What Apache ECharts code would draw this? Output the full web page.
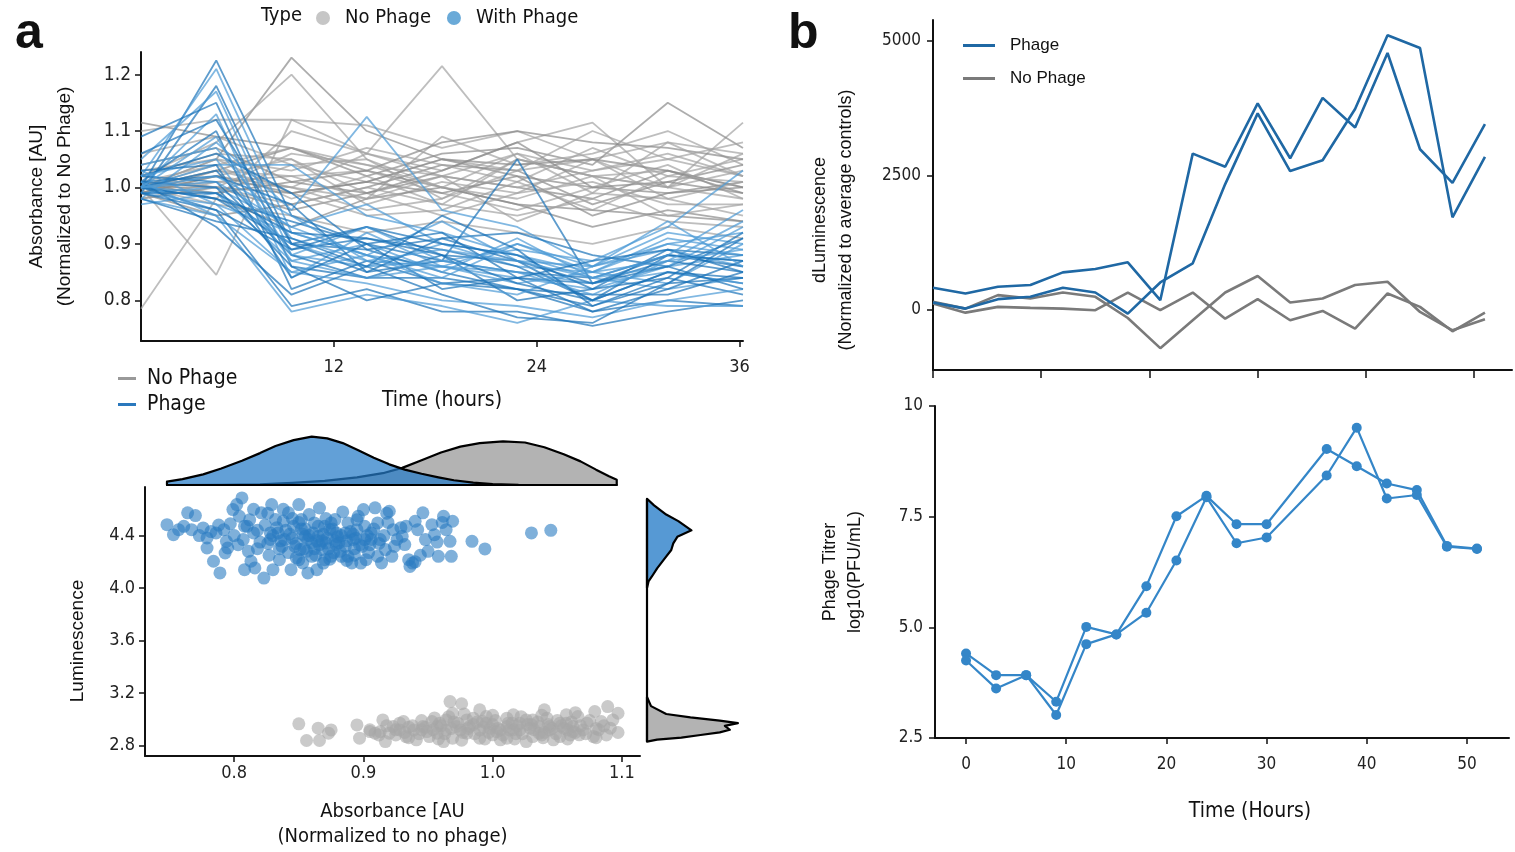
<!DOCTYPE html>
<html><head><meta charset="utf-8">
<script src="https://cdn.jsdelivr.net/npm/echarts@6.0.0/dist/echarts.min.js"></script>
<style>html,body{margin:0;padding:0;background:#fff}#c{width:1515px;height:852px}</style>
</head><body><div id="c"></div>
<script>
const NARROW = "'Liberation Sans Narrow','DejaVu Sans Condensed','Roboto Condensed',sans-serif";
const REG = "'Liberation Sans',Arial,sans-serif";

// ---------- Panel a (top): absorbance time courses ----------
const timeA = [0.6, 5.05, 9.5, 13.95, 18.4, 22.85, 27.3, 31.75, 36.2];
const timeTicksA = [12, 24, 36];
const absTicks = [0.8, 0.9, 1.0, 1.1, 1.2];
const noPhageCurves = [
 [1.00,1.05,1.23,1.10,1.05,1.02,1.00,0.99,1.01],
 [1.02,1.08,1.20,1.05,0.98,1.03,1.05,1.00,0.98],
 [0.785,0.98,1.10,1.06,1.215,1.05,1.02,1.03,1.00],
 [1.115,1.09,1.07,1.03,1.00,0.97,0.96,0.95,0.94],
 [1.00,0.845,1.12,1.11,1.07,1.10,1.05,1.08,1.06],
 [1.10,1.12,1.12,1.06,1.03,1.08,1.115,1.00,1.115],
 [0.99,1.03,1.07,1.02,1.06,1.07,1.04,1.15,1.07],
 [1.00,1.02,1.00,0.98,1.09,1.04,1.06,1.10,1.04],
 [1.01,0.99,1.04,1.05,1.00,1.06,1.03,1.05,1.02],
 [0.98,1.00,0.96,0.99,1.02,1.00,0.98,1.03,1.00],
 [1.00,1.04,0.98,1.02,0.97,1.05,1.02,1.00,1.03],
 [1.02,1.06,1.05,0.97,1.01,0.99,1.05,0.98,1.01],
 [0.99,0.95,0.97,1.00,1.04,1.03,0.97,1.01,0.99],
 [1.00,1.01,1.02,1.03,0.99,0.96,1.00,1.04,0.98],
 [1.03,1.05,0.99,0.95,0.96,1.01,1.07,1.02,1.05],
 [1.01,0.98,0.93,0.98,1.00,0.97,0.93,0.96,0.94],
 [1.00,1.03,1.00,1.06,1.02,0.94,0.99,0.98,0.95],
 [0.99,1.02,1.05,0.99,0.95,0.99,1.01,0.97,0.97],
 [1.04,1.07,1.01,1.03,1.08,1.10,1.08,1.07,1.05],
 [1.00,0.97,0.95,0.92,0.94,0.92,0.90,0.93,0.91],
 [1.06,1.09,1.04,1.01,1.05,1.03,1.10,1.05,1.08],
 [1.00,1.00,0.99,1.01,0.99,1.02,0.95,0.99,1.00],
 [0.98,1.01,1.00,0.96,0.98,1.05,1.02,0.95,0.97],
 [1.01,1.04,1.07,1.04,1.02,1.00,1.03,1.06,1.02],
 [1.00,0.99,1.01,0.99,1.03,1.08,1.00,1.01,1.04],
 [1.02,1.00,0.97,1.00,0.97,0.95,0.98,0.94,0.93],
 [1.00,1.05,1.03,1.07,1.04,1.01,0.96,1.02,1.01],
 [0.99,1.02,0.99,1.01,1.05,1.04,1.05,1.03,0.99],
 [1.01,1.00,1.06,1.04,1.00,0.98,1.02,1.00,1.06],
 [1.00,1.03,1.02,0.98,1.02,1.06,0.99,1.08,1.02]
];
const phageCurves = [
 [1.00,1.225,0.95,0.90,0.87,0.85,0.84,0.88,0.87],
 [1.02,1.21,0.92,0.88,0.86,0.84,0.82,0.86,0.88],
 [0.99,1.18,0.90,0.93,0.88,0.87,0.80,0.85,0.83],
 [1.05,1.17,0.88,0.86,0.90,0.88,0.85,0.83,0.90],
 [1.09,1.15,0.86,0.84,0.84,0.82,0.78,0.80,0.79],
 [1.00,1.13,0.84,0.92,0.86,0.90,0.86,0.89,0.86],
 [1.01,1.10,0.82,0.87,0.83,0.84,0.83,0.87,0.85],
 [0.98,1.08,0.96,1.125,0.96,0.93,0.86,0.90,0.92],
 [1.02,1.06,0.99,0.89,0.91,0.92,0.88,0.86,0.91],
 [1.00,1.04,1.04,0.95,0.92,0.88,0.84,0.82,0.84],
 [1.01,1.02,0.97,0.85,0.87,1.05,0.83,0.88,0.87],
 [0.99,1.00,0.93,0.97,0.90,0.86,0.85,0.91,0.89],
 [1.00,0.98,0.90,0.89,0.85,0.82,0.79,0.84,0.81],
 [1.03,0.97,0.85,0.83,0.80,0.79,0.77,0.80,0.82],
 [1.00,0.96,0.79,0.82,0.78,0.78,0.755,0.78,0.80],
 [0.98,0.95,0.78,0.81,0.79,0.76,0.80,0.79,0.79],
 [1.01,0.93,0.81,0.86,0.81,0.77,0.76,0.83,0.84],
 [1.00,0.99,0.87,0.90,0.85,0.91,0.84,0.86,0.93],
 [1.02,1.01,0.88,0.84,0.88,0.80,0.82,0.89,0.88],
 [0.99,0.97,0.92,0.88,0.94,0.87,0.86,0.92,0.90],
 [1.00,1.03,0.89,0.91,0.89,0.86,0.80,0.88,0.86],
 [1.04,1.07,0.91,0.87,0.86,0.85,0.83,0.85,0.83],
 [1.01,1.00,0.86,0.80,0.83,0.82,0.81,0.81,0.85],
 [0.97,0.99,0.90,0.86,0.87,0.89,0.87,0.93,1.03],
 [1.00,0.98,0.94,0.90,0.82,0.84,0.78,0.82,0.87],
 [1.02,1.05,0.87,0.84,0.86,0.83,0.85,0.87,0.94],
 [0.99,0.96,0.89,0.93,0.90,0.88,0.82,0.84,0.92],
 [1.00,1.01,0.93,0.88,0.84,0.90,0.85,0.90,0.88],
 [1.06,1.12,0.90,0.85,0.91,0.87,0.83,0.86,0.82],
 [1.01,0.95,0.85,0.88,0.83,0.81,0.86,0.94,0.86],
 [0.98,0.94,0.91,0.86,0.95,0.89,0.79,0.83,0.91],
 [1.00,1.09,0.88,0.93,0.87,0.85,0.81,0.87,0.89],
 [1.03,1.04,0.84,0.90,0.92,0.84,0.87,0.89,0.85],
 [1.00,1.02,0.95,0.87,0.89,0.87,0.84,0.88,0.96],
 [0.99,0.99,0.92,0.91,0.88,0.83,0.80,0.85,0.84]
];

// ---------- Panel a (bottom): scatter + marginal densities ----------
const scatterXTicks = [0.8, 0.9, 1.0, 1.1];
const scatterYTicks = [2.8, 3.2, 3.6, 4.0, 4.4];
const withPhagePoints = [
 [0.748,4.483],[0.753,4.407],[0.757,4.445],[0.764,4.573],[0.770,4.552],[0.767,4.445],[0.776,4.458],[0.779,4.382],
 [0.779,4.305],[0.784,4.204],[0.789,4.115],[0.786,4.420],[0.792,4.445],[0.794,4.356],[0.795,4.305],[0.793,4.267],
 [0.799,4.598],[0.802,4.636],[0.806,4.687],[0.804,4.547],[0.808,4.471],[0.807,4.369],[0.811,4.280],[0.813,4.204],
 [0.808,4.140],[0.816,4.153],[0.823,4.076],[0.821,4.573],[0.829,4.636],[0.832,4.522],[0.834,4.420],[0.837,4.318],
 [0.835,4.216],[0.830,4.140],[0.842,4.573],[0.846,4.471],[0.850,4.636],[0.852,4.522],[0.855,4.394],[0.851,4.293],
 [0.853,4.191],[0.857,4.115],[0.844,4.140],[0.862,4.496],[0.865,4.394],[0.868,4.293],[0.870,4.216],[0.864,4.140],
 [0.874,4.445],[0.878,4.522],[0.881,4.344],[0.883,4.242],[0.886,4.420],[0.888,4.496],[0.891,4.191],[0.896,4.547],
 [0.900,4.598],[0.901,4.471],[0.899,4.318],[0.902,4.216],[0.909,4.611],[0.911,4.496],[0.913,4.369],[0.917,4.293],
 [0.914,4.191],[0.920,4.585],[0.923,4.445],[0.924,4.318],[0.922,4.242],[0.930,4.394],[0.932,4.331],[0.935,4.216],
 [0.936,4.165],[0.940,4.509],[0.942,4.445],[0.946,4.573],[0.948,4.369],[0.950,4.280],[0.953,4.483],[0.955,4.407],
 [0.958,4.242],[0.962,4.547],[0.964,4.445],[0.967,4.356],[0.968,4.242],[0.969,4.509],[0.984,4.356],[0.994,4.298],
 [0.839,4.369],[0.847,4.318],[0.860,4.344],[0.865,4.471],[0.871,4.344],[0.875,4.242],[0.879,4.420],[0.886,4.318],
 [0.892,4.369],[0.895,4.445],[0.860,4.242],[0.850,4.216],[0.875,4.496],[0.888,4.242],[0.906,4.420],[0.911,4.242],
 [0.901,4.369],[1.030,4.420],[1.045,4.440],[0.830,4.400],[0.845,4.380],[0.855,4.450],[0.868,4.360],[0.873,4.300],
 [0.880,4.390],[0.862,4.300],[0.840,4.440],[0.826,4.340],[0.850,4.500],[0.870,4.470],[0.835,4.300],[0.877,4.270],
 [0.858,4.400],[0.893,4.300],[0.905,4.330],[0.815,4.420],[0.820,4.350],[0.810,4.470],[0.800,4.400],[0.938,4.190],
 [0.812,4.52],[0.818,4.44],[0.824,4.48],[0.828,4.37],[0.833,4.46],[0.838,4.51],[0.843,4.41],[0.848,4.34],
 [0.852,4.45],[0.857,4.37],[0.861,4.42],[0.866,4.33],[0.869,4.41],[0.872,4.38],[0.876,4.45],[0.879,4.33],
 [0.883,4.40],[0.887,4.36],[0.890,4.43],[0.894,4.38],[0.897,4.33],[0.903,4.40],[0.908,4.45],[0.912,4.34],
 [0.916,4.40],[0.919,4.50],[0.926,4.37],[0.929,4.46],[0.842,4.27],[0.848,4.23],[0.856,4.28],[0.863,4.25],
 [0.869,4.19],[0.874,4.22],[0.882,4.28],[0.887,4.21],[0.893,4.25],[0.898,4.19],[0.904,4.27],[0.827,4.25],
 [0.818,4.30],[0.803,4.33],[0.797,4.49],[0.788,4.48],[0.782,4.43],[0.773,4.40],[0.761,4.47],[0.815,4.60],
 [0.826,4.57],[0.838,4.60],[0.858,4.56],[0.866,4.61],[0.884,4.58],[0.871,4.53],[0.845,4.53],[0.854,4.30],
 [0.836,4.36],[0.864,4.36],[0.878,4.36],[0.892,4.41],[0.906,4.37],[0.940,4.20],[0.944,4.25],[0.957,4.35],
 [0.961,4.50],[0.933,4.47],[0.918,4.57],[0.895,4.52],[0.828,4.42],[0.853,4.41]
];
const noPhagePoints = [
 [0.850,2.965],[0.856,2.838],[0.865,2.932],[0.866,2.838],[0.873,2.894],[0.875,2.919],[0.895,2.957],[0.897,2.856],
 [0.905,2.906],[0.909,2.894],[0.915,2.995],[0.917,2.830],[0.923,2.945],[0.931,2.983],[0.933,2.868],[0.941,2.843],
 [0.946,2.945],[0.953,2.983],[0.957,2.894],[0.962,2.830],[0.967,3.135],[0.976,3.118],[0.969,3.046],[0.972,2.945],
 [0.980,2.894],[0.985,3.008],[0.990,3.072],[0.995,2.970],[1.000,2.881],[1.006,2.843],[1.011,2.945],[1.016,3.034],
 [1.021,2.919],[1.026,2.830],[1.031,2.995],[1.036,2.894],[1.040,3.072],[1.044,2.945],[1.047,2.843],[1.052,2.970],
 [1.057,3.034],[1.062,2.906],[1.066,3.021],[1.073,2.970],[1.078,2.868],[1.079,3.059],[1.084,2.983],[1.089,3.097],
 [1.091,2.932],[1.097,3.046],[1.097,2.899],[1.093,2.995],[0.913,2.906],[0.920,2.894],[0.928,2.919],[0.939,2.919],
 [0.949,2.906],[0.957,2.945],[0.964,2.919],[0.975,2.919],[0.982,2.945],[0.990,2.919],[0.998,2.932],[1.006,2.919],
 [1.013,2.919],[1.021,2.970],[1.029,2.932],[1.036,2.945],[1.044,2.919],[1.055,2.932],[1.062,2.945],[1.070,2.919],
 [0.964,2.995],[0.980,2.995],[0.995,3.021],[1.011,3.008],[1.026,2.995],[1.042,3.008],[1.057,2.970],[0.951,2.868],
 [0.969,2.856],[0.990,2.856],[1.011,2.856],[1.031,2.868],[1.052,2.868],[1.067,2.881],[0.985,2.960],[1.000,2.960],
 [1.015,2.970],[1.030,2.960],[0.970,2.980],[1.050,2.990],[0.960,2.950],[1.040,2.900],[0.925,2.880],[0.945,2.920],
 [1.003,2.905],[1.018,2.890],[1.060,2.880],[1.080,2.930],[0.935,2.940],[0.992,2.985],
 [0.925,2.92],[0.932,2.90],[0.938,2.95],[0.943,2.89],[0.948,2.94],[0.954,2.92],[0.959,2.97],[0.963,2.89],
 [0.968,2.93],[0.973,2.97],[0.977,2.90],[0.981,2.93],[0.986,2.89],[0.988,2.98],[0.993,2.94],[0.997,2.90],
 [1.002,2.99],[1.004,2.93],[1.008,2.88],[1.012,2.97],[1.016,2.92],[1.019,2.95],[1.023,2.89],[1.027,2.96],
 [1.032,2.92],[1.035,2.98],[1.038,2.88],[1.043,2.96],[1.046,2.93],[1.049,2.89],[1.053,2.95],[1.058,2.92],
 [1.061,2.98],[1.064,2.90],[1.068,2.95],[1.072,2.89],[1.075,2.99],[1.082,2.92],[1.086,2.95],[1.088,2.88],
 [0.945,2.99],[0.955,3.01],[0.966,3.02],[0.978,3.04],[1.000,3.03],[1.022,3.02],[1.038,3.03],[1.064,3.05],
 [0.935,2.86],[0.958,2.85],[0.976,2.84],[0.994,2.85],[1.017,2.85],[1.039,2.86],[1.058,2.85],[1.080,2.86],
 [0.905,2.92],[0.912,2.88],[0.918,2.95],[0.928,2.97]
];
// marginal density of absorbance (top)
const topDensPhageX = [0.748,0.760,0.776,0.790,0.806,0.820,0.832,0.846,0.860,0.872,0.884,0.896,0.908,0.920,0.932,0.945,0.958,0.970,0.985,1.000,1.020,1.050,1.096];
const topDensPhage  = [0.56,1.0,1.8,2.8,4.1,5.4,6.6,7.6,8.2,7.9,7.1,5.9,4.6,3.5,2.6,1.9,1.3,0.8,0.4,0.15,0.03,0.0,0.0];
const topDensNoPhageX = [0.748,0.790,0.820,0.845,0.870,0.895,0.915,0.930,0.945,0.960,0.975,0.990,1.008,1.025,1.040,1.055,1.068,1.080,1.090,1.096];
const topDensNoPhage  = [0.0,0.03,0.12,0.35,0.7,1.3,2.0,2.9,4.2,5.5,6.5,7.1,7.4,7.2,6.4,5.2,4.0,2.6,1.5,0.9];
// marginal density of luminescence (right)
const rightLumPhage = [4.68,4.63,4.56,4.51,4.44,4.39,4.34,4.29,4.22,4.15,4.09,4.05,4.00];
const rightDensPhage = [0,0.7,1.9,3.1,4.4,3.0,2.6,2.4,1.7,1.0,0.5,0.15,0];
const rightLumNoPhage = [3.17,3.10,3.04,3.015,2.99,2.97,2.95,2.92,2.90,2.88,2.86,2.845,2.83];
const rightDensNoPhage = [0,0.4,1.9,4.3,7.2,9.0,7.7,8.2,7.2,5.3,3.4,1.0,0];

// ---------- Panel b (top): dLuminescence ----------
const timeB = [0,3,6,9,12,15,18,21,24,27,30,33,36,39,42,45,48,51];
const timeTicksB = [0,10,20,30,40,50];
const lumTicksB = [0,2500,5000];
const phageLum1 = [413,307,432,464,699,763,886,183,2906,2663,3841,2820,3942,3392,4776,2988,2364,3456];
const phageLum2 = [138,26,202,245,413,325,-67,512,868,2340,3654,2582,2783,3736,5107,4869,1722,2844];
const noPhageLum1 = [120,-49,58,39,26,-4,325,-4,325,-161,202,-191,-17,-348,307,58,-396,-49];
const noPhageLum2 = [151,26,277,213,325,245,-148,-709,-191,325,632,138,213,464,525,-36,-378,-172];

// ---------- Panel b (bottom): phage titre ----------
const timeTitre = [0,3,6,9,12,15,18,21,24,27,30,36,39,42,45,48,51];
const titreTicks = [2.5,5.0,7.5,10];
const titre1 = [4.41,3.92,3.92,3.32,5.01,4.84,5.93,7.51,7.97,7.33,7.33,9.03,8.64,8.25,8.10,6.84,6.78];
const titre2 = [4.25,3.62,3.92,3.02,4.62,4.84,5.33,6.51,7.94,6.90,7.03,8.43,9.51,7.91,7.99,6.82,6.77];

// ---------- helpers ----------
const zip = (a, b) => a.map((v, i) => [v, b[i]]);
function axis(o) {
  const base = {
    type: 'value', splitLine: {show: false},
    axisLine: {show: true, onZero: false, lineStyle: {color: '#111', width: 2}},
    axisTick: {show: true, length: 6, lineStyle: {color: '#111', width: 1.5}},
    axisLabel: {color: '#222', fontFamily: NARROW, fontSize: 18}
  };
  const r = Object.assign(base, o);
  if (o.ticks) {
    r.axisTick = Object.assign({}, base.axisTick, {customValues: o.ticks}, o.tickExtra || {});
    r.axisLabel = Object.assign({}, base.axisLabel, {customValues: o.ticks}, o.labelExtra || {});
    delete r.ticks; delete r.tickExtra; delete r.labelExtra;
  }
  return r;
}
function hidden(o) {
  return Object.assign({type: 'value', show: false, splitLine: {show: false}}, o);
}
function densityPolygon(fill, horizontal) {
  return function (params, api) {
    if (params.dataIndexInside !== 0) return null;
    const n = params.dataInsideLength;
    const pts = [];
    for (let i = 0; i < n; i++) pts.push(api.coord([api.value(0, i), api.value(1, i)]));
    if (horizontal) {
      pts.push(api.coord([api.value(0, n - 1), 0]));
      pts.push(api.coord([api.value(0, 0), 0]));
    } else {
      pts.push(api.coord([0, api.value(1, n - 1)]));
      pts.push(api.coord([0, api.value(1, 0)]));
    }
    return {type: 'polygon', shape: {points: pts},
      style: {fill: fill, stroke: '#000', lineWidth: 2.2, lineJoin: 'round'}};
  };
}

const series = [];
noPhageCurves.forEach((c, i) => series.push({
  type: 'line', name: 'aNo', xAxisIndex: 0, yAxisIndex: 0, data: zip(timeA, c),
  showSymbol: false, silent: true, color: '#999',
  lineStyle: {width: 1.8, color: i % 3 === 0 ? '#8a8a8a' : '#a3a3a3', opacity: 0.7}
}));
phageCurves.forEach((c, i) => series.push({
  type: 'line', name: 'aPh', xAxisIndex: 0, yAxisIndex: 0, data: zip(timeA, c),
  showSymbol: false, silent: true, color: '#2a78bd',
  lineStyle: {width: 1.8, color: i % 2 === 0 ? '#1a72b8' : '#4b9ad5', opacity: 0.7}
}));
series.push({type: 'scatter', name: 'No Phage', xAxisIndex: 1, yAxisIndex: 1, data: noPhagePoints,
  symbolSize: 13, silent: true, itemStyle: {color: '#a6a6a6', opacity: 0.6}});
series.push({type: 'scatter', name: 'With Phage', xAxisIndex: 1, yAxisIndex: 1, data: withPhagePoints,
  symbolSize: 13, silent: true, itemStyle: {color: '#2a7cc2', opacity: 0.6}});
series.push({type: 'custom', name: 'densTopNo', xAxisIndex: 2, yAxisIndex: 2, silent: true,
  data: zip(topDensNoPhageX, topDensNoPhage), renderItem: densityPolygon('#b3b3b3', true)});
series.push({type: 'custom', name: 'densTopPh', xAxisIndex: 2, yAxisIndex: 2, silent: true,
  data: zip(topDensPhageX, topDensPhage), renderItem: densityPolygon('rgba(38,124,200,0.72)', true)});
series.push({type: 'line', name: 'densBase', xAxisIndex: 3, yAxisIndex: 3, silent: true, showSymbol: false,
  data: [[0, rightLumPhage[0]], [0, rightLumNoPhage[rightLumNoPhage.length - 1]]],
  lineStyle: {color: '#000', width: 2.2}});
series.push({type: 'custom', name: 'densRightPh', xAxisIndex: 3, yAxisIndex: 3, silent: true,
  data: zip(rightDensPhage, rightLumPhage), renderItem: densityPolygon('rgba(38,124,200,0.78)', false)});
series.push({type: 'custom', name: 'densRightNo', xAxisIndex: 3, yAxisIndex: 3, silent: true,
  data: zip(rightDensNoPhage, rightLumNoPhage), renderItem: densityPolygon('#b3b3b3', false)});
[noPhageLum1, noPhageLum2].forEach(d => series.push({
  type: 'line', name: 'bNo', xAxisIndex: 4, yAxisIndex: 4, data: zip(timeB, d), showSymbol: false,
  silent: true, color: '#7a7a7a', lineStyle: {width: 2.6, color: '#7a7a7a'}}));
[phageLum1, phageLum2].forEach(d => series.push({
  type: 'line', name: 'bPh', xAxisIndex: 4, yAxisIndex: 4, data: zip(timeB, d), showSymbol: false,
  silent: true, color: '#1f68a4', lineStyle: {width: 2.6, color: '#1f68a4'}}));
[titre1, titre2].forEach(d => series.push({
  type: 'line', name: 'titre', xAxisIndex: 5, yAxisIndex: 5, data: zip(timeTitre, d),
  symbol: 'circle', symbolSize: 10, showSymbol: true, silent: true, color: '#3486c8',
  itemStyle: {color: '#3486c8'}, lineStyle: {width: 2.2, color: '#3486c8'}}));

const legendNames = {aNo: 'No Phage', aPh: 'Phage', bNo: 'No Phage', bPh: 'Phage',
  'No Phage': 'No Phage', 'With Phage': 'With Phage'};

const option = {
  animation: false,
  backgroundColor: '#fff',
  title: [
    {text: 'a', left: 10, top: 4, textStyle: {fontFamily: REG, fontSize: 50, fontWeight: 'bold', color: '#111'}},
    {text: 'b', left: 783, top: 4, textStyle: {fontFamily: REG, fontSize: 50, fontWeight: 'bold', color: '#111'}},
    {text: 'Type', left: 256, top: 1, textStyle: {fontFamily: NARROW, fontSize: 20, fontWeight: 'normal', color: '#111'}}
  ],
  legend: [
    {data: [{name: 'No Phage', icon: 'circle', itemStyle: {color: '#c6c6c6', opacity: 1}},
            {name: 'With Phage', icon: 'circle', itemStyle: {color: '#6aaad8', opacity: 1}}],
     left: 311, top: 3, itemWidth: 14, itemHeight: 14, itemGap: 16, selectedMode: false,
     formatter: n => legendNames[n],
     textStyle: {fontFamily: NARROW, fontSize: 20, color: '#111', padding: [0, 0, 0, 10]}},
    {data: [{name: 'aNo', icon: 'rect', itemStyle: {color: '#999', opacity: 1}},
            {name: 'aPh', icon: 'rect', itemStyle: {color: '#2a78bd', opacity: 1}}],
     orient: 'vertical', left: 113, top: 363, itemWidth: 18, itemHeight: 3, itemGap: 5, selectedMode: false,
     formatter: n => legendNames[n],
     textStyle: {fontFamily: NARROW, fontSize: 21, color: '#111', padding: [0, 0, 0, 6]}},
    {data: [{name: 'bPh', icon: 'rect', itemStyle: {color: '#1f68a4', opacity: 1}},
            {name: 'bNo', icon: 'rect', itemStyle: {color: '#7a7a7a', opacity: 1}}],
     orient: 'vertical', left: 958, top: 32, itemWidth: 32, itemHeight: 3, itemGap: 16, selectedMode: false,
     formatter: n => legendNames[n],
     textStyle: {fontFamily: REG, fontSize: 17, color: '#111', padding: [0, 0, 0, 10]}}
  ],
  grid: [
    {left: 141, top: 52, width: 602, height: 289},
    {left: 145, top: 487, width: 495, height: 269},
    {left: 145, top: 436, width: 495, height: 49},
    {left: 647, top: 487, width: 95, height: 269},
    {left: 933, top: 20, width: 579, height: 350},
    {left: 935, top: 406, width: 574, height: 332}
  ],
  xAxis: [
    axis({gridIndex: 0, min: 0.6, max: 36.2, ticks: timeTicksA, labelExtra: {margin: 17},
      name: 'Time (hours)', nameLocation: 'middle', nameGap: 49,
      nameTextStyle: {fontFamily: NARROW, fontSize: 21, color: '#111'}}),
    axis({gridIndex: 1, min: 0.731, max: 1.114, ticks: scatterXTicks,
      labelExtra: {margin: 8, formatter: v => v.toFixed(1)},
      name: 'Absorbance [AU\n(Normalized to no phage)', nameLocation: 'middle', nameGap: 43,
      nameTextStyle: {fontFamily: NARROW, fontSize: 20, lineHeight: 25, color: '#111'}}),
    hidden({gridIndex: 2, min: 0.731, max: 1.114}),
    hidden({gridIndex: 3, min: 0, max: 9.4}),
    axis({gridIndex: 4, min: 0, max: 53.5, ticks: timeTicksB, labelExtra: {show: false},
      tickExtra: {length: 8}}),
    axis({gridIndex: 5, min: -3.1, max: 54.2, ticks: timeTicksB,
      labelExtra: {margin: 18, fontSize: 17},
      name: 'Time (Hours)', nameLocation: 'middle', nameGap: 63,
      nameTextStyle: {fontFamily: NARROW, fontSize: 21, color: '#111', padding: [0, 0, 0, 56]}})
  ],
  yAxis: [
    axis({gridIndex: 0, min: 0.728, max: 1.24, ticks: absTicks,
      labelExtra: {margin: 10, fontSize: 19, formatter: v => v.toFixed(1)},
      name: 'Absorbance [AU]\n(Normalized to No Phage)', nameLocation: 'middle', nameGap: 62,
      nameTextStyle: {fontFamily: REG, fontSize: 19, lineHeight: 28, color: '#111'}}),
    axis({gridIndex: 1, min: 2.72, max: 4.77, ticks: scatterYTicks,
      labelExtra: {margin: 10, formatter: v => v.toFixed(1)},
      name: 'Luminescence', nameLocation: 'middle', nameGap: 58,
      nameTextStyle: {fontFamily: REG, fontSize: 19, color: '#111', padding: [0, 39, 0, 0]}}),
    hidden({gridIndex: 2, min: 0, max: 8.3}),
    hidden({gridIndex: 3, min: 2.72, max: 4.77}),
    axis({gridIndex: 4, min: -1115, max: 5390, ticks: lumTicksB,
      labelExtra: {margin: 12, fontSize: 17, formatter: v => String(v)},
      name: 'dLuminescence\n(Normalized to average controls)', nameLocation: 'middle', nameGap: 74,
      nameTextStyle: {fontFamily: REG, fontSize: 18, lineHeight: 26, color: '#111', padding: [0, 50, 0, 0]}}),
    axis({gridIndex: 5, min: 2.5, max: 10, ticks: titreTicks,
      labelExtra: {margin: 12, fontSize: 17, formatter: v => (v === 10 ? '10' : v.toFixed(1))},
      name: 'Phage Titrer\nlog10(PFU/mL)', nameLocation: 'middle', nameGap: 67,
      nameTextStyle: {fontFamily: REG, fontSize: 18, lineHeight: 25, color: '#111'}})
  ],
  series: series
};
const chart = echarts.init(document.getElementById('c'), null, {renderer: 'canvas'});
chart.setOption(option);
</script></body></html>
